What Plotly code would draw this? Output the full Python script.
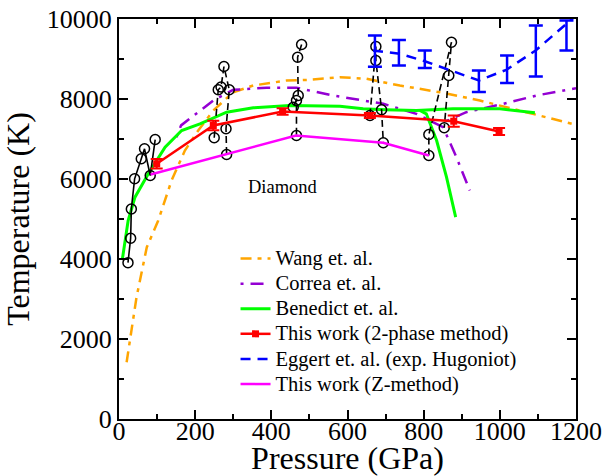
import plotly.graph_objects as go

FONT = "Liberation Serif"

# Wang et al. (orange)
wang_p = [20, 46, 73, 103, 138, 173, 208, 247.6, 300, 352.5, 440, 501, 580, 650, 737.5, 842, 947.5, 1087, 1200]
wang_t = [1420, 3045, 4295, 4962, 5962, 6712, 7212, 7712, 8170, 8337, 8462, 8480, 8545, 8505, 8337, 8170, 7962, 7630, 7355]

# Correa et al. (purple) - main curve, gap, rising branch
correa_p = [151, 163, 247.6, 300, 387.5, 466, 562.5, 694, 781, 851, 886, 921, None, 860, 912, 1009, 1096, 1200]
correa_t = [7045, 7340, 7962, 8230, 8280, 8280, 8087, 7880, 7630, 7295, 6545, 5712, None, 7450, 7670, 7880, 8087, 8270]

# Benedict et al. (green) - main curve, gap, dropping branch
bened_p = [9, 24, 42, 77, 121, 164.5, 212.6, 282.6, 352.5, 449, 580, 641, 700, 781, 877, 1000, 1092, None, 790, 807, 834, 860, 884]
bened_t = [4005, 4962, 5545, 6130, 6795, 7212, 7380, 7670, 7780, 7837, 7820, 7755, 7730, 7712, 7755, 7755, 7655, None, 7712, 7630, 6962, 6045, 5045]

# This work (2-phase method)
two_p = [99, 247.6, 429.6, 658.8, 879, 998]
two_t = [6380, 7337, 7687, 7587, 7445, 7187]
two_err = [120, 120, 80, 60, 140, 90]

# Eggert et al. (exp. Hugoniot)
egg_line_p = [667, 737, 803, 869, 945, 1017, 1094, 1175, 1195]
egg_line_t = [9212, 9130, 8945, 8712, 8462, 8730, 9212, 9880, 10050]
egg_p = [672, 735, 803, 945, 1019, 1094.5, 1175]
egg_t = [9195, 9157, 8995, 8442, 8742, 9200, 9587]
egg_err = [390, 320, 217, 270, 345, 640, 375]

# This work (Z-method)
z_p = [83, 282.6, 464.6, 693.8, 813.6]
z_t = [6112, 6612, 7087, 6905, 6587]

# Isochores (black, open circles)
iso_a_p = [23.6, 30.6, 32.4, 41, 58.5, 67, 82, 95]
iso_a_t = [3908, 4520, 5250, 6005, 6505, 6755, 6087, 6987]
iso_b_p = [250, 260.6, 268, 275.6, 289.5, 281, 282.6]
iso_b_t = [7030, 8230, 8300, 8812, 8230, 7255, 6612]
iso_c_p = [479.5, 469, 470.6, 457.5, 466, 466]
iso_c_t = [9362, 9045, 8087, 7795, 7962, 7087]
iso_d_p = [659, 674.5, 674.5, 689.5, 694]
iso_d_t = [7587, 9312, 8962, 7730, 6905]
iso_e_p = [813.6, 813.6, 873, 866, 854]
iso_e_t = [6587, 7112, 9420, 8587, 7280]

x_ticks = [0, 200, 400, 600, 800, 1000, 1200]
y_ticks = [0, 2000, 4000, 6000, 8000, 10000]


def lg(name):
    return '<span style="font-size:20.5px">' + name + '</span>'


fig = go.Figure()

fig.add_trace(go.Scatter(x=wang_p, y=wang_t, mode="lines", name=lg("Wang et. al."),
                         line=dict(color="#FFA500", width=2.5, dash="11px,6px,4px,6px")))
fig.add_trace(go.Scatter(x=correa_p, y=correa_t, mode="lines", name=lg("Correa et. al."),
                         line=dict(color="#9400D3", width=2.5, dash="3px,7px,13px,7px")))
fig.add_trace(go.Scatter(x=bened_p, y=bened_t, mode="lines", name=lg("Benedict et. al."),
                         line=dict(color="#00FF00", width=3)))

iso_style = dict(mode="lines+markers", showlegend=False,
                 marker=dict(symbol="circle-open", size=10, color="black", line=dict(width=1.5)))
fig.add_trace(go.Scatter(x=iso_a_p, y=iso_a_t, line=dict(color="black", width=1.6), **iso_style))
for px_, ty_ in [(iso_b_p, iso_b_t), (iso_c_p, iso_c_t), (iso_d_p, iso_d_t), (iso_e_p, iso_e_t)]:
    fig.add_trace(go.Scatter(x=px_, y=ty_, line=dict(color="black", width=1.6, dash="7px,4px"), **iso_style))

fig.add_trace(go.Scatter(x=two_p, y=two_t, mode="lines+markers", name=lg("This work (2-phase method)"),
                         line=dict(color="#FF0000", width=2.5),
                         marker=dict(symbol="square", size=7, color="#FF0000"),
                         error_y=dict(type="data", array=two_err, color="#FF0000", thickness=2, width=6)))
fig.add_trace(go.Scatter(x=egg_line_p, y=egg_line_t, mode="lines", name=lg("Eggert et. al. (exp. Hugoniot)"),
                         line=dict(color="#0000FF", width=2.5, dash="10px,7px")))
fig.add_trace(go.Scatter(x=egg_p, y=egg_t, mode="markers", showlegend=False,
                         marker=dict(size=1, color="#0000FF"),
                         error_y=dict(type="data", array=egg_err, color="#0000FF", thickness=2.5, width=7)))
fig.add_trace(go.Scatter(x=z_p, y=z_t, mode="lines", name=lg("This work (Z-method)"),
                         line=dict(color="#FF00FF", width=2.5)))

axis_common = dict(showline=True, linewidth=2, linecolor="black", mirror="ticks",
                   ticks="inside", ticklen=9, tickwidth=1.5, tickcolor="black",
                   showgrid=False, zeroline=False,
                   tickfont=dict(family=FONT, size=26, color="black"))

fig.update_layout(
    template="none",
    width=604, height=476,
    margin=dict(l=119, r=28, t=19, b=57),
    paper_bgcolor="white", plot_bgcolor="white",
    font=dict(family=FONT, color="black"),
    xaxis=dict(range=[0, 1200], tickvals=x_ticks, ticktext=[str(v) for v in x_ticks],
               ticklabelstandoff=-12,
               minor=dict(dtick=100, ticks="inside", ticklen=5, tickcolor="black"),
               title=dict(text="Pressure (GPa)", font=dict(family=FONT, size=32, color="black"), standoff=0),
               **axis_common),
    yaxis=dict(range=[0, 10000], tickvals=y_ticks, ticktext=[str(v) for v in y_ticks],
               minor=dict(dtick=1000, ticks="inside", ticklen=5, tickcolor="black"),
               title=dict(text="Temperature (K)", font=dict(family=FONT, size=32, color="black"), standoff=8),
               **axis_common),
    legend=dict(x=0.255, y=0.445, xanchor="left", yanchor="top",
                bgcolor="rgba(0,0,0,0)", font=dict(family=FONT, size=17, color="black"),
                tracegroupgap=0, itemwidth=30),
    annotations=[dict(x=430, y=5800, text="Diamond", showarrow=False,
                      font=dict(family=FONT, size=18.5, color="black"))],
)

fig.write_html("out.html")
